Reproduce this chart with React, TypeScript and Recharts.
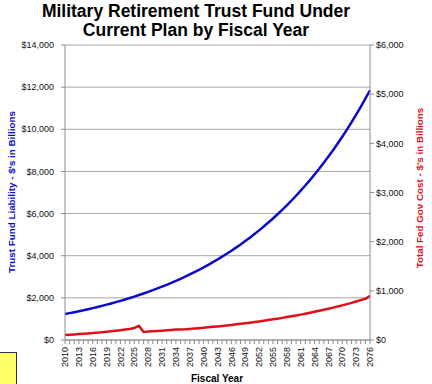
import React from "react";
import { LineChart, Line, XAxis, YAxis, CartesianGrid } from "recharts";

const years = [
  2010, 2011, 2012, 2013, 2014, 2015, 2016, 2017, 2018, 2019,
  2020, 2021, 2022, 2023, 2024, 2025, 2026, 2027, 2028, 2029,
  2030, 2031, 2032, 2033, 2034, 2035, 2036, 2037, 2038, 2039,
  2040, 2041, 2042, 2043, 2044, 2045, 2046, 2047, 2048, 2049,
  2050, 2051, 2052, 2053, 2054, 2055, 2056, 2057, 2058, 2059,
  2060, 2061, 2062, 2063, 2064, 2065, 2066, 2067, 2068, 2069,
  2070, 2071, 2072, 2073, 2074, 2075, 2076,
];

// Trust Fund Liability ($B, left axis)
const trustFund = [
  1232, 1275, 1319, 1366, 1413, 1462, 1513, 1566, 1621, 1678,
  1736, 1797, 1859, 1924, 1991, 2061, 2133, 2207, 2284, 2364,
  2447, 2532, 2620, 2712, 2806, 2904, 3006, 3110, 3219, 3331,
  3448, 3568, 3692, 3821, 3955, 4093, 4235, 4383, 4536, 4695,
  4858, 5028, 5203, 5385, 5573, 5767, 5969, 6177, 6393, 6616,
  6846, 7085, 7333, 7589, 7853, 8127, 8411, 8705, 9008, 9323,
  9648, 9985, 10333, 10694, 11067, 11453, 11853,
];

// Total Fed Gov Cost ($B, right axis)
const fedCost = [
  100, 107, 113, 120, 127, 134, 142, 150, 159, 168,
  178, 189, 200, 212, 225, 245, 290, 165, 171, 177,
  183, 189, 196, 205, 214, 214, 218, 225, 233, 241,
  250, 259, 268, 277, 287, 297, 307, 318, 329, 341,
  353, 365, 378, 392, 405, 420, 434, 450, 466, 482,
  499, 516, 535, 553, 573, 593, 614, 635, 658, 681,
  705, 730, 755, 782, 810, 838, 898,
];

const leftTicks = [0, 2000, 4000, 6000, 8000, 10000, 12000, 14000];
const rightTicks = [0, 1000, 2000, 3000, 4000, 5000, 6000];

const titleLines = ["Military Retirement Trust Fund Under", "Current Plan by Fiscal Year"];
const leftTitle = "Trust Fund Liability - $'s in Billions";
const rightTitle = "Total Fed Gov Cost - $'s in Billions";
const xTitle = "Fiscal Year";

const data = years.map((y, i) => ({ year: String(y), trust: trustFund[i], cost: fedCost[i] }));

const money = (v: number) => "$" + v.toLocaleString("en-US");

const FONT = "'Liberation Sans', Arial, sans-serif";
const BLUE = "#0a0acc";
const RED = "#e01018";
const AXIS = "#8c8c8c";

const XTick = (props: any) => {
  const { x, y, payload, index } = props;
  if (index % 3 !== 0) return <g />;
  return (
    <text
      x={x}
      y={y}
      transform={`rotate(-90, ${x}, ${y})`}
      textAnchor="end"
      dy="0.35em"
      fontSize={9}
      fontFamily={FONT}
      fill="#111"
    >
      {payload.value}
    </text>
  );
};

export default function App() {
  return (
    <div style={{ position: "absolute", left: 0, top: 0, width: 432, height: 384, background: "#fff", overflow: "hidden" }}>
      <LineChart
        width={432}
        height={384}
        data={data}
        margin={{ top: 45, right: 0, bottom: 0, left: 0 }}
      >
        <CartesianGrid yAxisId="left" vertical={false} stroke="#a6a6a6" strokeWidth={1} />
        <XAxis
          dataKey="year"
          interval={0}
          height={44}
          tick={<XTick />}
          tickSize={4}
          tickMargin={3}
          stroke={AXIS}
          tickLine={{ stroke: AXIS }}
        />
        <YAxis
          yAxisId="left"
          orientation="left"
          width={65}
          domain={[0, 14000]}
          ticks={leftTicks}
          tickFormatter={money}
          tickSize={4}
          tickMargin={7}
          stroke={AXIS}
          tick={{ fontSize: 9, fontFamily: FONT, fill: "#111" }}
          interval={0}
        />
        <YAxis
          yAxisId="right"
          orientation="right"
          width={62}
          domain={[0, 6000]}
          ticks={rightTicks}
          tickFormatter={money}
          tickSize={4}
          tickMargin={2}
          stroke={AXIS}
          tick={{ fontSize: 9, fontFamily: FONT, fill: "#111" }}
          interval={0}
        />
        <Line
          yAxisId="left"
          type="linear"
          dataKey="trust"
          stroke={BLUE}
          strokeWidth={2.5}
          dot={false}
          isAnimationActive={false}
        />
        <Line
          yAxisId="right"
          type="linear"
          dataKey="cost"
          stroke={RED}
          strokeWidth={2.5}
          dot={false}
          isAnimationActive={false}
        />
      </LineChart>
      <svg
        width={432}
        height={384}
        style={{ position: "absolute", left: 0, top: 0, pointerEvents: "none" }}
      >
        <text x={196} y={17} textAnchor="middle" fontSize={17.5} fontWeight="bold" fontFamily={FONT} fill="#000">
          {titleLines[0]}
        </text>
        <text x={196} y={36} textAnchor="middle" fontSize={17.5} fontWeight="bold" fontFamily={FONT} fill="#000">
          {titleLines[1]}
        </text>
        <text
          x={12}
          y={192}
          transform="rotate(-90, 12, 192)"
          textAnchor="middle"
          dy="0.35em"
          fontSize={9.8}
          fontWeight="bold"
          fontFamily={FONT}
          fill={BLUE}
        >
          {leftTitle}
        </text>
        <text
          x={420}
          y={188}
          transform="rotate(-90, 420, 188)"
          textAnchor="middle"
          dy="0.35em"
          fontSize={9.8}
          fontWeight="bold"
          fontFamily={FONT}
          fill={RED}
        >
          {rightTitle}
        </text>
        <text x={217} y={382} textAnchor="middle" fontSize={10} fontWeight="bold" fontFamily={FONT} fill="#000">
          {xTitle}
        </text>
      </svg>
      <div
        style={{
          position: "absolute",
          left: -1,
          top: 352,
          width: 16,
          height: 40,
          background: "#ffff66",
          border: "1px solid #333",
        }}
      />
    </div>
  );
}
